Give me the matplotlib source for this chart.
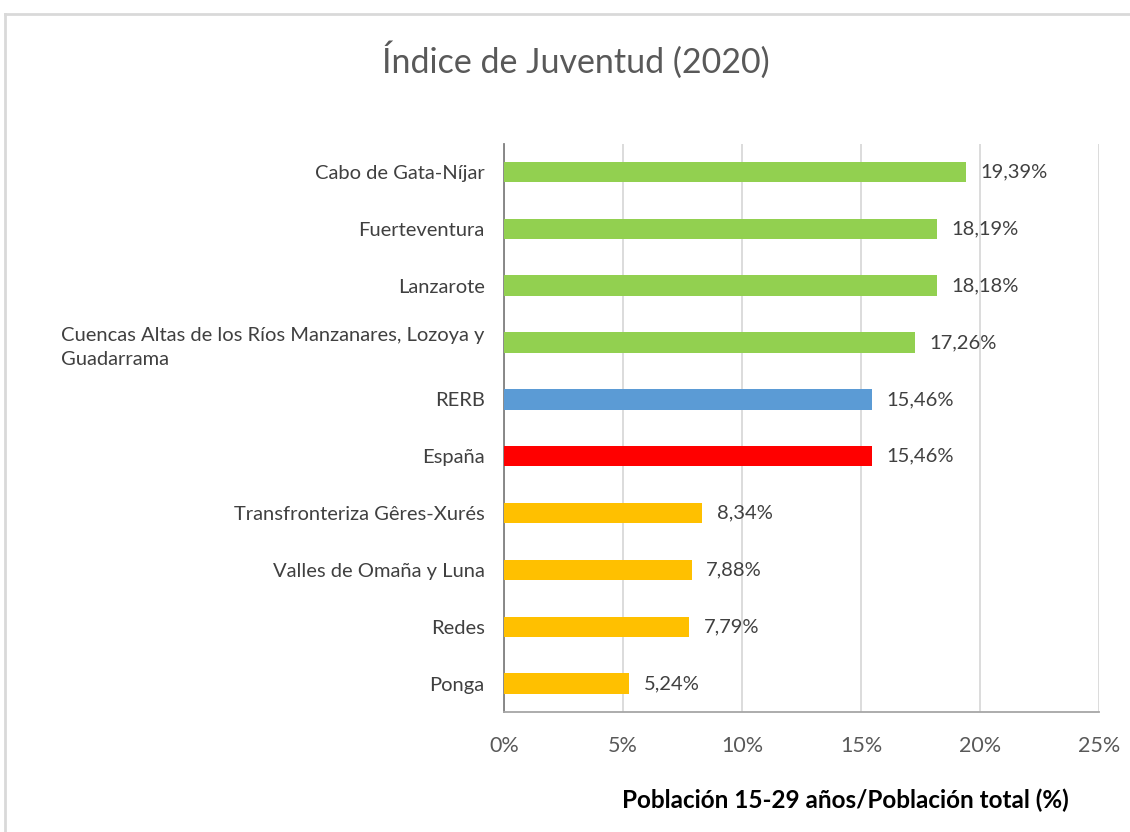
import matplotlib
matplotlib.use('Agg')

import matplotlib.pyplot as plt
from matplotlib.ticker import FuncFormatter

categorias = ['Cabo de Gata-Níjar', 'Fuerteventura', 'Lanzarote',
              'Cuencas Altas de los Ríos Manzanares, Lozoya y\nGuadarrama',
              'RERB', 'España', 'Transfronteriza Gêres-Xurés',
              'Valles de Omaña y Luna', 'Redes', 'Ponga']
valores = [19.39, 18.19, 18.18, 17.26, 15.46, 15.46, 8.34, 7.88, 7.79, 5.24]
colores = ['#92D050', '#92D050', '#92D050', '#92D050', '#5B9BD5', '#FF0000',
           '#FFC000', '#FFC000', '#FFC000', '#FFC000']

plt.rcParams['font.family'] = ['Lato', 'DejaVu Sans']

fig = plt.figure(figsize=(11.3, 8.32), dpi=100)
ax = fig.add_axes([0.446, 0.1442, 0.5266, 0.6832])

y = list(range(len(categorias)))[::-1]
ax.barh(y, valores, height=0.36, color=colores, zorder=3)
for yi, v in zip(y, valores):
    ax.text(v + 0.62, yi, f'{v:.2f}%'.replace('.', ','), va='center', ha='left',
            fontsize=14.5, color='#404040')

ax.set_xlim(0, 25)
ax.set_ylim(-0.5, len(categorias) - 0.5)
ax.set_xticks([0, 5, 10, 15, 20, 25])
ax.xaxis.set_major_formatter(FuncFormatter(lambda x, p: f'{x:.0f}%'))
ax.set_yticks(y)
ax.set_yticklabels(categorias, fontsize=14.5, color='#404040', linespacing=1.5)
for lab in ax.get_yticklabels():
    lab.set_horizontalalignment('right')
    lab.set_multialignment('left')
ax.tick_params(axis='x', labelsize=15.5, colors='#595959', length=0, pad=17)
ax.tick_params(axis='y', length=0, pad=14)
ax.grid(axis='x', color='#D9D9D9', linewidth=1.3, zorder=0)
for s in ['top', 'right']:
    ax.spines[s].set_visible(False)
ax.spines['left'].set_color('#808080')
ax.spines['left'].set_linewidth(1.3)
ax.spines['bottom'].set_color('#A6A6A6')
ax.spines['bottom'].set_linewidth(1.3)

fig.text(0.51, 0.928, 'Índice de Juventud (2020)', ha='center', va='center',
         fontsize=24.5, color='#595959')
fig.text(0.748, 0.038, 'Población 15-29 años/Población total (%)', ha='center',
         va='center', fontsize=17.5, fontweight='bold', color='black')

# marco del gráfico
fig.add_artist(plt.Line2D([0.004, 1.0], [0.983, 0.983], color='#D9D9D9', linewidth=2))
fig.add_artist(plt.Line2D([0.004, 0.004], [0.0, 0.983], color='#D9D9D9', linewidth=2))

fig.savefig('out.png', dpi=100)
